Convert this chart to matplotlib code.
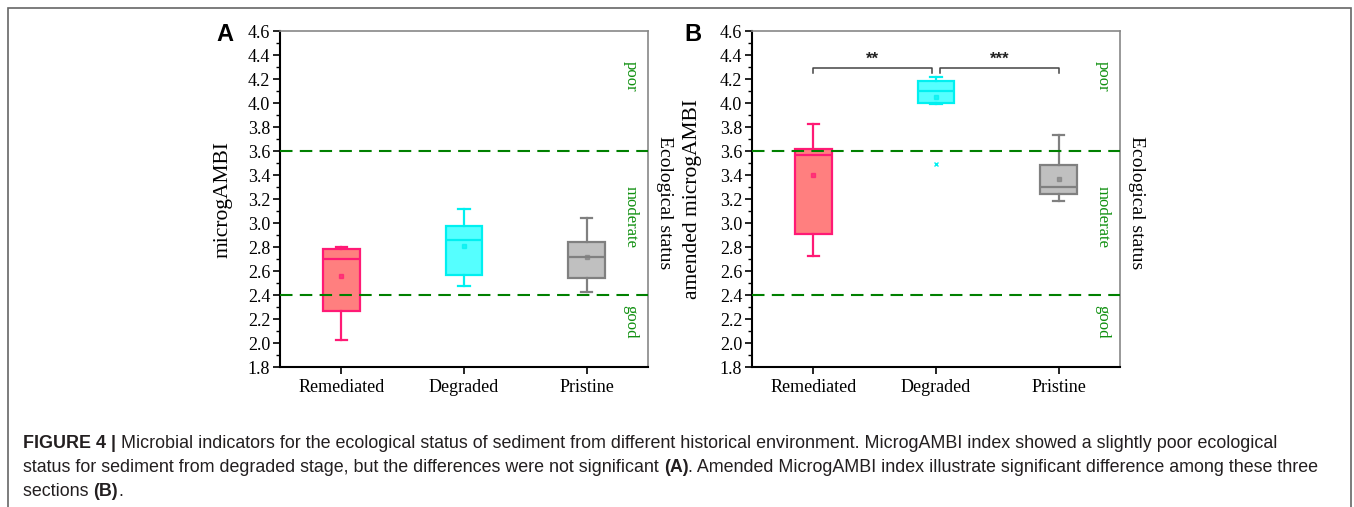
import matplotlib
matplotlib.use("Agg")
import matplotlib.pyplot as plt
from matplotlib.patches import Rectangle
from matplotlib.ticker import MultipleLocator

plt.rcParams['font.family'] = ['Liberation Serif', 'DejaVu Serif']

groups = ['Remediated', 'Degraded', 'Pristine']
face_colors = ['#FF7F7F', '#55FFFF', '#C0C0C0']
edge_colors = ['#FF1A75', '#00F0F0', '#808080']

# panel A: microgAMBI
a_low = [2.025, 2.478, 2.428]
a_q1 = [2.267, 2.567, 2.544]
a_med = [2.700, 2.861, 2.717]
a_q3 = [2.780, 2.972, 2.842]
a_high = [2.796, 3.117, 3.042]
a_mean = [2.558, 2.806, 2.720]
a_out = [[], [], []]

# panel B: amended microgAMBI
b_low = [2.727, 3.995, 3.180]
b_q1 = [2.911, 4.000, 3.240]
b_med = [3.567, 4.097, 3.300]
b_q3 = [3.620, 4.180, 3.486]
b_high = [3.822, 4.220, 3.730]
b_mean = [3.397, 4.050, 3.370]
b_out = [[], [3.49], []]

status_limits = [3.6, 2.4]
status_names = ['poor', 'moderate', 'good']
status_pos = [4.22, 3.05, 2.18]

brackets = [(1.0, 1.97), (2.03, 3.0)]
bracket_y = 4.295
bracket_marks = ['**', '***']

W, H = 1354, 507
fig = plt.figure(figsize=(W / 100, H / 100), dpi=100)


def box_panel(rect, low, q1, med, q3, high, mean, out, ylabel, label_x, letter, letter_x):
    ax = fig.add_axes(rect)
    stats = []
    for i in range(3):
        stats.append(dict(whislo=low[i], q1=q1[i], med=med[i], q3=q3[i],
                          whishi=high[i], mean=mean[i], fliers=out[i]))
    bp = ax.bxp(stats, positions=[1, 2, 3], widths=0.3, patch_artist=True,
                showmeans=True, manage_ticks=False)
    for i in range(3):
        ec = edge_colors[i]
        bp['boxes'][i].set(facecolor=face_colors[i], edgecolor=ec, linewidth=1.6)
        bp['medians'][i].set(color=ec, linewidth=1.6)
        for k in (2 * i, 2 * i + 1):
            bp['whiskers'][k].set(color=ec, linewidth=1.6)
            bp['caps'][k].set(color=ec, linewidth=1.6)
        bp['means'][i].set(marker='s', markersize=2.5, markerfacecolor=ec,
                           markeredgecolor=ec, alpha=0.7)
        bp['fliers'][i].set(marker='x', markersize=3, markeredgecolor=ec,
                            markeredgewidth=1)
    for c in bp['caps']:
        x = c.get_xdata()
        m = (x[0] + x[1]) / 2
        c.set_xdata([m - 0.045, m + 0.045])

    for y in status_limits:
        ax.axhline(y, color='#008000', linestyle=(0, (6, 3.5)), linewidth=1.5,
                   zorder=3)
    for name, y in zip(status_names, status_pos):
        ax.text(0.953, y, name, transform=ax.get_yaxis_transform(),
                rotation=270, ha='center', va='center', color='#109010',
                fontsize=12)
    ax.text(1.044, 0.49, 'Ecological status', transform=ax.transAxes,
            rotation=270, ha='center', va='center', fontsize=14)

    ax.set_xlim(0.5, 3.5)
    ax.set_ylim(1.8, 4.6)
    ax.set_xticks([1, 2, 3])
    ax.set_xticklabels(groups)
    ax.yaxis.set_major_locator(MultipleLocator(0.2))
    ax.yaxis.set_minor_locator(MultipleLocator(0.1))
    ax.yaxis.set_major_formatter(matplotlib.ticker.FormatStrFormatter('%.1f'))
    ax.tick_params(axis='both', which='major', direction='out', length=5,
                   width=1.2, labelsize=13, pad=2)
    ax.tick_params(axis='y', which='minor', direction='out', length=3, width=1)
    ax.tick_params(axis='x', pad=4)
    for s in ('left', 'bottom'):
        ax.spines[s].set_linewidth(1.5)
        ax.spines[s].set_color('black')
    for s in ('top', 'right'):
        ax.spines[s].set_linewidth(1.2)
        ax.spines[s].set_color('#888888')
    ax.set_ylabel(ylabel, fontsize=15.5)
    ax.yaxis.set_label_coords(label_x, 0.5)
    ax.text(letter_x, 0.99, letter, transform=ax.transAxes, ha='center',
            va='center', fontsize=17, fontweight='bold',
            family='Liberation Sans')
    return ax


axA = box_panel([280 / W, 1 - 367 / H, 368 / W, 336 / H], a_low, a_q1, a_med,
                a_q3, a_high, a_mean, a_out, 'microgAMBI', -0.130, 'A', -0.150)
axB = box_panel([752 / W, 1 - 367 / H, 368 / W, 336 / H], b_low, b_q1, b_med,
                b_q3, b_high, b_mean, b_out, 'amended microgAMBI', -0.136, 'B',
                -0.160)

for (x0, x1), mark in zip(brackets, bracket_marks):
    axB.plot([x0, x0, x1, x1], [bracket_y - 0.045, bracket_y, bracket_y,
                                bracket_y - 0.045],
             color='#444444', linewidth=1.1)
    axB.text((x0 + x1) / 2, bracket_y + 0.01, mark, ha='center', va='bottom',
             fontsize=12, fontweight='bold', color='#222222',
             family='Liberation Sans')

# outer frame (open at the bottom)
fig.patches.append(Rectangle((8 / W, -0.05), (1351 - 8) / W, 1.05 - 8 / H,
                             transform=fig.transFigure, fill=False,
                             edgecolor='#666666', linewidth=1.2))

# caption with bold runs
caption = [
    [('FIGURE 4 | ', 'bold'),
     ('Microbial indicators for the ecological status of sediment from '
      'different historical environment. MicrogAMBI index showed a slightly '
      'poor ecological', 'normal')],
    [('status for sediment from degraded stage, but the differences were not '
      'significant ', 'normal'), ('(A)', 'bold'),
     ('. Amended MicrogAMBI index illustrate significant difference among '
      'these three', 'normal')],
    [('sections ', 'normal'), ('(B)', 'bold'), ('.', 'normal')],
]
cap_y = [448, 472, 496]
fig.canvas.draw()
r = fig.canvas.get_renderer()
for parts, yb in zip(caption, cap_y):
    x = 23
    for txt, wt in parts:
        t = fig.text(x / W, 1 - yb / H, txt, fontsize=12.9, fontweight=wt,
                     family='Liberation Sans', color='#231F20',
                     va='baseline', ha='left')
        bb = t.get_window_extent(renderer=r)
        x += bb.width

fig.savefig('out.png', dpi=100)
